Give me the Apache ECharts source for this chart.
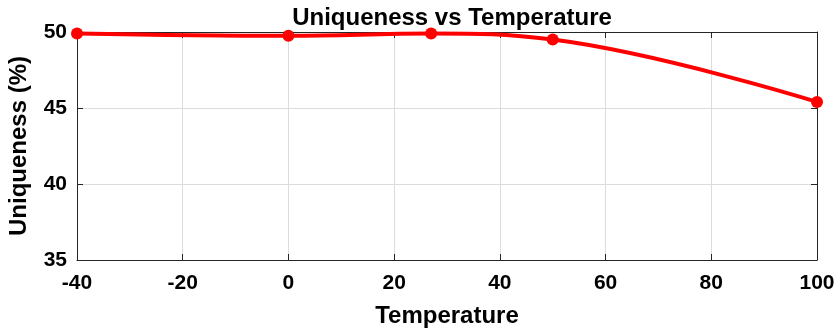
<!DOCTYPE html>
<html><head><meta charset="utf-8">
<script src="https://cdn.jsdelivr.net/npm/echarts@6/dist/echarts.min.js"></script>
<style>html,body{margin:0;padding:0;background:#fff}#c{width:837px;height:335px}</style>
</head><body><div id="c"></div>
<script>
const temperatures = [-40, 0, 27, 50, 100];
const uniqueness = [49.9, 49.75, 49.9, 49.5, 45.4];
const xTicks = [-40, -20, 0, 20, 40, 60, 80, 100];
const yTicks = [35, 40, 45, 50];

const font = 'Liberation Sans, Arial, sans-serif';
const chart = echarts.init(document.getElementById('c'));
const hidden = {show:false};
const tick = {show:true,inside:true,length:6,lineStyle:{color:'#262626'}};
chart.setOption({
  animation:false,
  title:{text:'Uniqueness vs Temperature', left:447, top:1, textAlign:'center',
    textStyle:{fontFamily:font,fontWeight:'bold',fontSize:24,color:'#000'}},
  grid:{left:77,right:20,top:32,bottom:75,containLabel:false,outerBoundsMode:'none'},
  xAxis:[{type:'value',min:xTicks[0],max:xTicks[xTicks.length-1],interval:20,
    name:'Temperature',nameLocation:'middle',nameGap:44,
    nameTextStyle:{fontFamily:font,fontWeight:'bold',fontSize:24,color:'#000'},
    axisLine:{onZero:false,lineStyle:{color:'#262626',width:1}},
    axisTick:tick,
    axisLabel:{fontFamily:font,fontWeight:'bold',fontSize:21,color:'#000',margin:13},
    splitLine:{show:true,lineStyle:{color:'#dcdcdc',width:1}}},
   {type:'value',position:'top',min:xTicks[0],max:xTicks[xTicks.length-1],interval:20,
    axisLine:{show:true,onZero:false,lineStyle:{color:'#262626'}},axisTick:tick,
    axisLabel:hidden,splitLine:hidden}],
  yAxis:[{type:'value',min:yTicks[0],max:yTicks[yTicks.length-1],interval:5,
    name:'Uniqueness (%)',nameLocation:'middle',nameGap:46,
    nameTextStyle:{fontFamily:font,fontWeight:'bold',fontSize:24,color:'#000'},
    axisLine:{show:true,onZero:false,lineStyle:{color:'#262626',width:1}},
    axisTick:tick,
    axisLabel:{fontFamily:font,fontWeight:'bold',fontSize:21,color:'#000',margin:10},
    splitLine:{show:true,lineStyle:{color:'#dcdcdc',width:1}}},
   {type:'value',position:'right',min:yTicks[0],max:yTicks[yTicks.length-1],interval:5,
    axisLine:{show:true,onZero:false,lineStyle:{color:'#262626'}},axisTick:tick,
    axisLabel:hidden,splitLine:hidden}],
  series:[{type:'line',data:temperatures.map((t,i)=>[t,uniqueness[i]]),
    smooth:0.4,symbol:'circle',symbolSize:12,
    lineStyle:{color:'#ff0000',width:4},itemStyle:{color:'#ff0000'}}]
});
</script></body></html>
